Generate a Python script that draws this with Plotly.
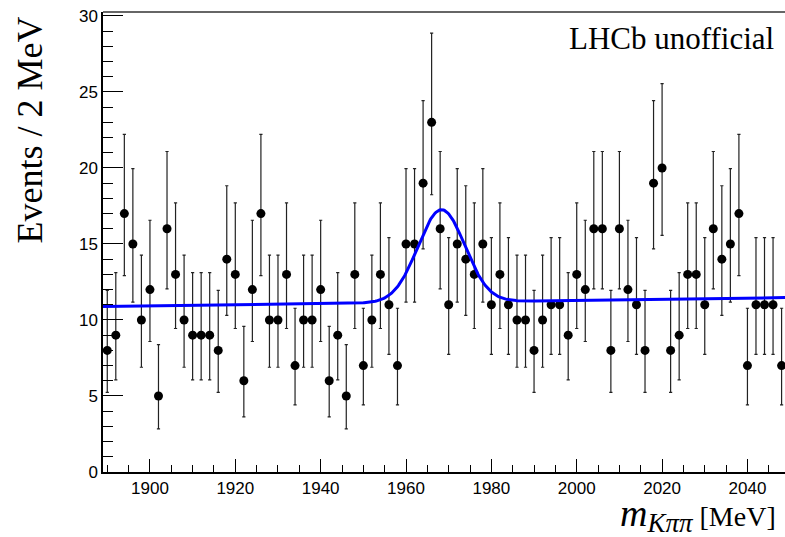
import numpy as np
import plotly.graph_objects as go

# Binned data: 2 MeV bins from 1889 to 2049 MeV (bin centres)
bin_centres = list(range(1890, 2050, 2))
counts = [
    8, 9, 17, 15, 10, 12, 5, 16, 13, 10,
    9, 9, 9, 8, 14, 13, 6, 12, 17, 10,
    10, 13, 7, 10, 10, 12, 6, 9, 5, 13,
    7, 10, 13, 11, 7, 15, 15, 19, 23, 16,
    11, 15, 14, 13, 15, 11, 13, 11, 10, 10,
    8, 10, 11, 11, 9, 13, 12, 16, 16, 8,
    16, 12, 11, 8, 19, 20, 8, 9, 13, 13,
    11, 16, 14, 15, 17, 7, 11, 11, 11, 7,
]

# Fit model parameters: linear background + Gaussian signal (per 2 MeV bin)
bkg_at_lo = 10.88       # background level at 1889 MeV
bkg_slope = 0.0037      # per MeV
sig_amp = 6.08
sig_mean = 1968.3
sig_sigma = 5.5

x_lo, x_hi = 1889.0, 2048.8
y_lo, y_hi = 0.0, 30.26


def pois_cdf(n, mu):
    k = np.arange(n + 1)
    logfact = np.array([np.sum(np.log(np.arange(1, i + 1))) for i in k])
    return float(np.sum(np.exp(-mu + k * np.log(mu) - logfact)))


def garwood(n, cl=0.682689):
    """Central Poisson confidence interval for n observed events."""
    alpha = (1.0 - cl) / 2.0
    lo_mu, hi_mu = float(n), n + 10.0 * np.sqrt(n + 1) + 10.0
    for _ in range(80):
        mid = 0.5 * (lo_mu + hi_mu)
        if pois_cdf(n, mid) > alpha:
            lo_mu = mid
        else:
            hi_mu = mid
    upper = 0.5 * (lo_mu + hi_mu)
    if n == 0:
        return 0.0, upper
    a, b = 1e-9, float(n)
    for _ in range(80):
        mid = 0.5 * (a + b)
        if pois_cdf(n - 1, mid) > 1.0 - alpha:
            a = mid
        else:
            b = mid
    lower = 0.5 * (a + b)
    return lower, upper


limits = [garwood(n) for n in counts]
err_plus = [u - n for n, (l, u) in zip(counts, limits)]
err_minus = [n - l for n, (l, u) in zip(counts, limits)]

xf = np.linspace(x_lo, x_hi, 800)
yf = (bkg_at_lo + bkg_slope * (xf - x_lo)
      + sig_amp * np.exp(-0.5 * ((xf - sig_mean) / sig_sigma) ** 2))

fig = go.Figure()

fig.add_trace(go.Scatter(
    x=bin_centres, y=counts, mode="markers",
    marker=dict(color="black", size=9),
    error_y=dict(type="data", symmetric=False, array=err_plus,
                 arrayminus=err_minus, color="#222222",
                 thickness=1.2, width=1.6),
    showlegend=False,
))

fig.add_trace(go.Scatter(
    x=xf, y=yf, mode="lines",
    line=dict(color="#0000ff", width=3),
    showlegend=False,
))

W, H = 785, 537
ml, mr, mt, mb = 103, 0, 12, 65
pw, ph = W - ml - mr, H - mt - mb


def px_x(p):
    return (p - ml) / pw


def px_y(p):
    return (H - mb - p) / ph


tick_font = dict(family="Liberation Sans, Arial, sans-serif", size=17, color="black")
serif = "Liberation Serif, Times New Roman, serif"

x_title = ('<span style="font-size:38px"><i>m</i></span>'
           '<sub><span style="font-size:27px"><i>Kππ</i></span></sub>'
           ' [MeV]')

fig.update_layout(
    width=W, height=H,
    margin=dict(l=ml, r=mr, t=mt, b=mb),
    paper_bgcolor="white", plot_bgcolor="white",
    xaxis=dict(
        range=[x_lo, x_hi], showgrid=False, zeroline=False,
        showline=True, linecolor="black", linewidth=1.5,
        ticks="inside", ticklen=13, tickwidth=1.2, tickcolor="black",
        tick0=1900, dtick=20, tickfont=tick_font,
        minor=dict(ticks="inside", ticklen=7, tickwidth=1.2,
                   tickcolor="black", dtick=5, tick0=1890),
    ),
    yaxis=dict(
        range=[y_lo, y_hi], showgrid=False, zeroline=False,
        showline=True, linecolor="black", linewidth=1.5,
        ticks="inside", ticklen=20, tickwidth=1.2, tickcolor="black",
        tick0=0, dtick=5, tickfont=tick_font,
        minor=dict(ticks="inside", ticklen=10, tickwidth=1.2,
                   tickcolor="black", dtick=1, tick0=0),
    ),
    shapes=[dict(type="line", xref="paper", yref="paper",
                 x0=0, x1=1, y0=1, y1=1,
                 line=dict(color="#666666", width=2))],
    annotations=[
        dict(text="Events / 2 MeV", xref="paper", yref="paper",
             x=px_x(30), y=px_y(15), xanchor="center", yanchor="top",
             textangle=-90, showarrow=False,
             font=dict(family=serif, size=36, color="black")),
        dict(text="LHCb unofficial", xref="paper", yref="paper",
             x=px_x(776), y=px_y(38), xanchor="right", yanchor="middle",
             showarrow=False,
             font=dict(family=serif, size=31, color="black")),
        dict(text=x_title,
             xref="paper", yref="paper",
             x=px_x(778), y=px_y(515), xanchor="right", yanchor="middle",
             showarrow=False,
             font=dict(family=serif, size=28, color="black")),
    ],
)

fig.write_html("out.html")
